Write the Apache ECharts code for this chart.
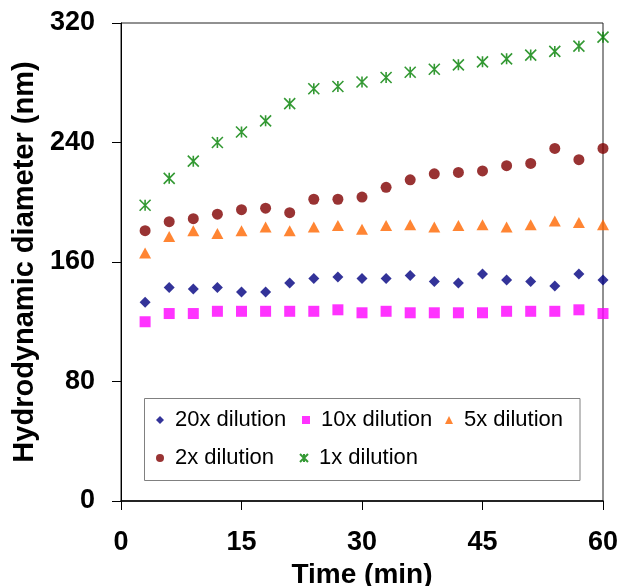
<!DOCTYPE html>
<html>
<head>
<meta charset="utf-8">
<script src="https://cdn.jsdelivr.net/npm/echarts@6/dist/echarts.min.js"></script>
<style>
html,body{margin:0;padding:0;background:#fff;}
#chart{width:621px;height:586px;}
</style>
</head>
<body>
<div id="chart"></div>
<script>
var times = [3, 6, 9, 12, 15, 18, 21, 24, 27, 30, 33, 36, 39, 42, 45, 48, 51, 54, 57, 60];
var dil20x = [133, 143, 142, 143, 140, 140, 146, 149, 150, 149, 149, 151, 147, 146, 152, 148, 147, 144, 152, 148];
var dil10x = [120, 125.5, 125.5, 127, 127, 127, 127, 127, 128, 126, 127, 126, 126, 126, 126, 127, 127, 127, 128, 125.5];
var dil5x = [166, 177, 181, 179, 181, 183.5, 181, 183.5, 184.5, 182, 184.5, 185, 183.5, 184.5, 185, 183.5, 185, 187.5, 186.5, 185];
var dil2x = [181, 187, 189, 192, 195, 196, 193, 202, 202, 203.5, 210, 215, 219, 220, 221, 224.5, 226, 236, 228.5, 236];
var dil1x = [198, 216, 227.5, 240, 247, 254.5, 266, 276, 277.5, 280.5, 283.5, 287, 289, 292, 294, 296, 298.5, 301, 304.5, 310.5];
var seriesNames = ['20x dilution', '10x dilution', '5x dilution', '2x dilution', '1x dilution'];
var xTicks = [0, 15, 30, 45, 60];
var yTicks = [0, 80, 160, 240, 320];

function pairs(vals) { return times.map(function (t, i) { return [t, vals[i]]; }); }

var FONT = 'Arial, "Liberation Sans", sans-serif';
var starPath = 'path://M0,0L10,10M10,0L0,10M5,0L5,10';

var chart = echarts.init(document.getElementById('chart'), null, {renderer: 'canvas'});

function legendAt(name, left, top) {
  return {
    data: [name], left: left, top: top, orient: 'horizontal',
    itemWidth: 8, itemHeight: 8, padding: 0, selectedMode: false, symbolKeepAspect: true,
    textStyle: {fontFamily: FONT, fontSize: 22, color: '#000', padding: [0, 0, 0, 6]}
  };
}

chart.setOption({
  animation: false,
  backgroundColor: '#fff',
  grid: {left: 121, right: 18, top: 23, bottom: 85, show: true, borderColor: '#222', borderWidth: 1,
         backgroundColor: 'transparent', containLabel: false, outerBoundsMode: 'none'},
  graphic: [{
    type: 'rect', z: 0, silent: true,
    shape: {x: 144.5, y: 398.5, width: 435.5, height: 82},
    style: {fill: 'none', stroke: '#808080', lineWidth: 1}
  }],
  legend: [
    legendAt(seriesNames[0], 156, 409),
    legendAt(seriesNames[1], 302, 409),
    legendAt(seriesNames[2], 445, 409),
    legendAt(seriesNames[3], 156, 447),
    legendAt(seriesNames[4], 299, 447)
  ],
  xAxis: {
    type: 'value', min: xTicks[0], max: xTicks[xTicks.length - 1], interval: 15,
    name: 'Time (min)', nameLocation: 'middle', nameGap: 48,
    nameTextStyle: {fontFamily: FONT, fontSize: 28, fontWeight: 'bold', color: '#000'},
    axisLine: {show: true, lineStyle: {color: '#000', width: 1.5}},
    axisTick: {show: true, inside: false, length: 9, lineStyle: {color: '#000'}},
    axisLabel: {fontFamily: FONT, fontSize: 27, fontWeight: 'bold', color: '#000', margin: 28},
    splitLine: {show: false}
  },
  yAxis: {
    type: 'value', min: yTicks[0], max: yTicks[yTicks.length - 1], interval: 80,
    name: 'Hydrodynamic diameter (nm)', nameLocation: 'middle', nameGap: 80, nameRotate: 90,
    nameTextStyle: {fontFamily: FONT, fontSize: 29, fontWeight: 'bold', color: '#000'},
    axisLine: {show: true, lineStyle: {color: '#000', width: 1}},
    axisTick: {show: true, inside: false, length: 9, lineStyle: {color: '#000'}},
    axisLabel: {fontFamily: FONT, fontSize: 27, fontWeight: 'bold', color: '#000', margin: 26},
    splitLine: {show: false}
  },
  series: [
    {name: seriesNames[0], type: 'scatter', symbol: 'diamond', symbolSize: 11, data: pairs(dil20x), itemStyle: {color: '#000080'}},
    {name: seriesNames[1], type: 'scatter', symbol: 'rect', symbolSize: 11, data: pairs(dil10x), itemStyle: {color: '#FF00FF'}},
    {name: seriesNames[2], type: 'scatter', symbol: 'triangle', symbolSize: [12, 11], data: pairs(dil5x), itemStyle: {color: '#FF6600'}},
    {name: seriesNames[3], type: 'scatter', symbol: 'circle', symbolSize: 11, data: pairs(dil2x), itemStyle: {color: '#800000'}},
    {name: seriesNames[4], type: 'scatter', symbol: starPath, symbolSize: 11, data: pairs(dil1x), itemStyle: {color: '#008000', borderColor: '#008000', borderWidth: 1.6}}
  ]
});
</script>
</body>
</html>
